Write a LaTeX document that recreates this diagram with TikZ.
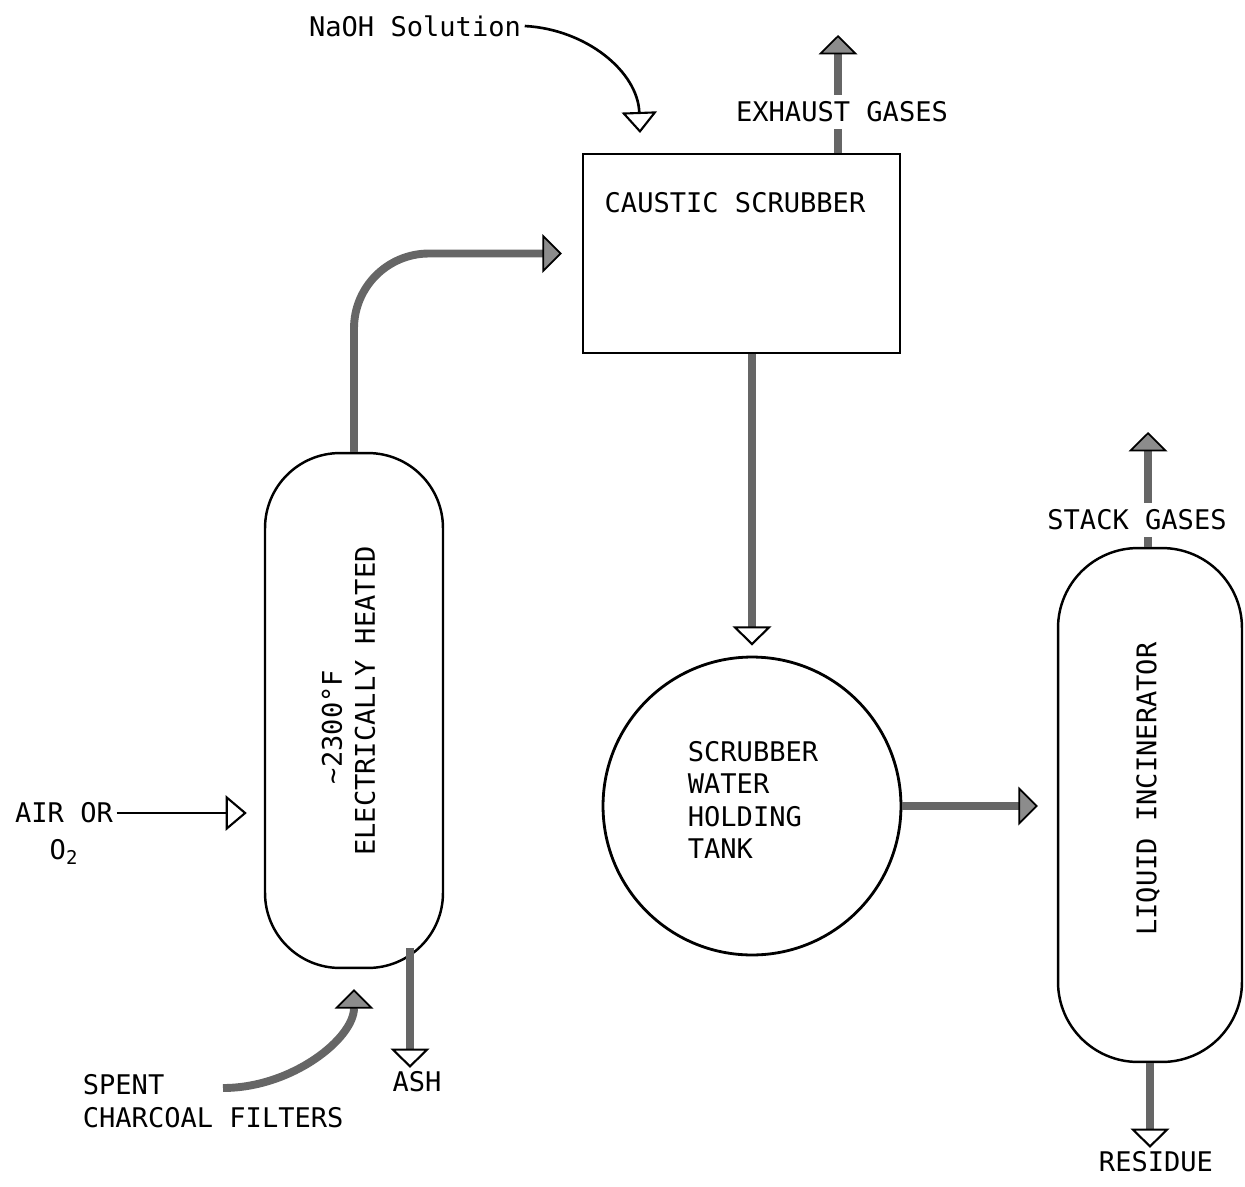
\documentclass[tikz,border=0pt]{standalone}
\usepackage{fontspec}
\setmonofont{DejaVu Sans Mono}
\usetikzlibrary{arrows.meta}

\begin{document}
\begin{tikzpicture}[x=0.02cm,y=-0.02cm,
  every node/.style={font=\ttfamily\fontsize{15.4}{18.5}\selectfont,inner sep=2pt},
  vessel/.style={draw,line width=1.4pt,rounded corners=1.5cm,
                 minimum width=3.56cm,minimum height=10.3cm},
  tank/.style={draw,circle,line width=1.6pt,minimum size=5.96cm},
  unit/.style={draw,line width=1.4pt,minimum width=6.34cm,minimum height=3.98cm},
  gaslabel/.style={fill=white,inner sep=4pt},
  feed/.style={line width=1.5pt,-{Triangle[open,width=20pt,length=12pt,line width=1.2pt]}},
  flow/.style={line width=4.5pt,draw=black!60,
               -{Triangle[width=22pt,length=11pt,line width=1pt,color=black,fill=black!45]}},
  drain/.style={line width=4.5pt,draw=black!60,
               -{Triangle[open,width=22pt,length=11pt,line width=1.2pt,color=black]}}]
\useasboundingbox (0,0) rectangle (1245,1187);

% scrubber
\node[unit] (scrub)    at (741.5,253.5) {};
\node       (scrubtxt) at (735,203)     {CAUSTIC SCRUBBER};
\node       (naoh)     at (415,26)      {NaOH Solution};
\coordinate (naohin)   at (640,133);
\coordinate (exh)      at (838,35);

% furnace
\node[vessel]     (furnace) at (354,710.5) {};
\node[rotate=90]  (temp)    at (332,727)   {\textasciitilde 2300°F};
\node[rotate=90]  (heat)    at (365,701)   {ELECTRICALLY HEATED};
\node             (air)     at (64,813)    {AIR OR};
\node             (oxy)     at (64,852)    {O\textsubscript{2}};
\node[anchor=west,align=left] (spent) at (79,1101) {SPENT\\CHARCOAL FILTERS};
\coordinate       (spentout) at (223,1088);
\coordinate       (ashout)   at (410,948);
\node             (ash)      at (417,1082) {ASH};

% holding tank
\node[tank] (hold) at (752,806) {};
\node[anchor=west,align=left] (holdtxt) at (684,800) {SCRUBBER\\WATER\\HOLDING\\TANK};

% incinerator
\node[vessel,minimum width=3.68cm,minimum height=10.28cm,rounded corners=1.6cm] (incin) at (1150,805) {};
\node[rotate=90] (liq)      at (1148,789)  {LIQUID INCINERATOR};
\coordinate      (stacktip) at (1148,432);
\node            (resid)    at (1156,1162) {RESIDUE};

\draw[feed] (naoh.east) to[out=-3,in=92] (naohin);
\draw[flow] (exh |- scrub.north) -- (exh);
\draw[feed,shorten >=0.34cm] (air.east) -- (air.east -| furnace.west);
\draw[flow,rounded corners=1.5cm,shorten >=0.4cm] (furnace.north) |- (scrub.west);
\draw[flow,shorten >=0.4cm] (spentout) to[out=0,in=-90] (furnace.south);
\draw[drain] (ashout) -- (ashout |- ash.north);
\draw[drain,shorten >=0.2cm] (hold.north |- scrub.south) -- (hold.north);
\draw[flow,shorten >=0.38cm] (hold.east) -- (hold.east -| incin.west);
\draw[flow] (stacktip |- incin.north) -- (stacktip);
\draw[drain] (incin.south) -- (incin.south |- resid.north);

% gas labels sit over their stacks
\node[gaslabel] (exhtxt) at (842,112) {EXHAUST GASES};
\node[gaslabel] (stack)  at (1137,520) {STACK GASES};
\end{tikzpicture}
\end{document}
